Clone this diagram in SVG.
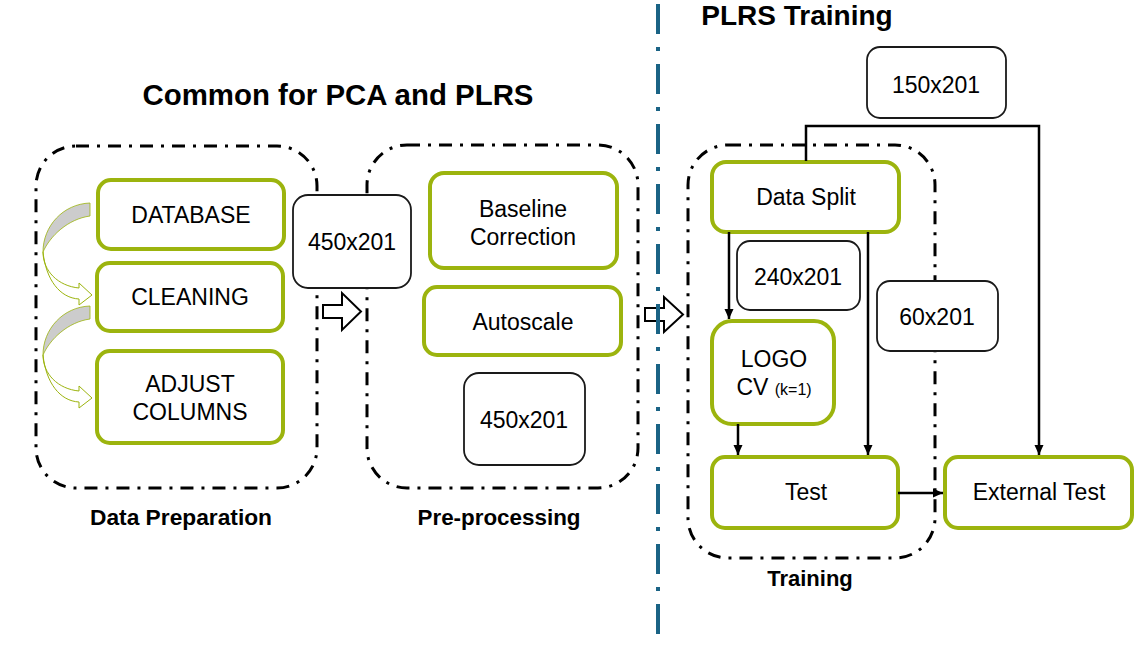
<svg xmlns="http://www.w3.org/2000/svg" width="1146" height="649" viewBox="0 0 1146 649">
<style>
.bg{fill:#ffffff}
.cont{fill:none;stroke:#000;stroke-width:3;stroke-dasharray:13 8 3 8}
.g{fill:#fff;stroke:#9CB40E;stroke-width:4}
.k{fill:#fff;stroke:#1a1a1a;stroke-width:1.8}
.t{font-family:"Liberation Sans",Arial,sans-serif;font-size:23px;fill:#000;text-anchor:middle}
.s{font-size:16px}
.h{font-family:"Liberation Sans",Arial,sans-serif;font-weight:bold;fill:#000;text-anchor:middle}
.c{fill:none;stroke:#000;stroke-width:2.5}
.blk{fill:#fff;stroke:#000;stroke-width:2}
.gr{fill:#cccccc;stroke:#9CB40E;stroke-width:0.8}
.wa{fill:#fff;stroke:#9CB40E;stroke-width:1}
</style>
<defs>
<marker id="ah" markerUnits="userSpaceOnUse" viewBox="0 0 10 10" refX="10" refY="5" markerWidth="10" markerHeight="10" orient="auto">
<path d="M0,0.5 L10,5 L0,9.5 Z" fill="#000"/>
</marker>
</defs>
<rect class="bg" x="0" y="0" width="1146" height="649"/>

<g id="titles">
<text class="h" x="338" y="105" font-size="29" textLength="391" lengthAdjust="spacingAndGlyphs">Common for PCA and PLRS</text>
<text class="h" x="797" y="25" font-size="28">PLRS Training</text>
</g>

<g id="data-preparation">
<rect class="cont" x="36" y="146" width="281" height="342" rx="40"/>
<text class="h" x="181" y="525" font-size="22" textLength="182" lengthAdjust="spacingAndGlyphs">Data Preparation</text>
</g>
<g id="pre-processing">
<rect class="cont" x="367" y="145" width="271" height="343" rx="40"/>
<text class="h" x="499" y="525" font-size="22" textLength="163" lengthAdjust="spacingAndGlyphs">Pre-processing</text>
</g>
<g id="training">
<rect class="cont" x="688" y="145" width="247" height="413" rx="40"/>
<text class="h" x="810" y="586" font-size="22">Training</text>
</g>

<g id="curved-arrows">
<path class="gr" d="M90,203 C63,204 43,226 43,252 C50,236 68,219 90,216 Z"/>
<path class="wa" d="M43,252 C43,271 58,286 79,288 L79,283 L92,295 L79,305 L79,299 C60,298 46,280 43,252 Z"/>
<g transform="translate(0,103)">
<path class="gr" d="M90,203 C63,204 43,226 43,252 C50,236 68,219 90,216 Z"/>
<path class="wa" d="M43,252 C43,271 58,286 79,288 L79,283 L92,295 L79,305 L79,299 C60,298 46,280 43,252 Z"/>
</g>
</g>

<g id="database"><rect class="g" x="98" y="180" width="186" height="69" rx="13"/><text class="t" x="191" y="223">DATABASE</text></g>
<g id="cleaning"><rect class="g" x="97" y="263" width="186" height="68" rx="13"/><text class="t" x="190" y="305">CLEANING</text></g>
<g id="adjust-columns"><rect class="g" x="97" y="351" width="186" height="92" rx="13"/><text class="t" x="190" y="392">ADJUST</text><text class="t" x="190" y="420">COLUMNS</text></g>

<g id="size-450-a"><rect class="k" x="293" y="195" width="118" height="93" rx="15"/><text class="t" x="352" y="250">450x201</text></g>

<g id="baseline-correction"><rect class="g" x="430" y="173" width="187" height="95" rx="14"/><text class="t" x="523" y="217">Baseline</text><text class="t" x="523" y="245">Correction</text></g>
<g id="autoscale"><rect class="g" x="424" y="287" width="197" height="68" rx="13"/><text class="t" x="523" y="330">Autoscale</text></g>
<g id="size-450-b"><rect class="k" x="464" y="373" width="121" height="92" rx="15"/><text class="t" x="524" y="428">450x201</text></g>

<g id="data-split"><rect class="g" x="712" y="162" width="187" height="70" rx="14"/><text class="t" x="806" y="205">Data Split</text></g>
<g id="size-240"><rect class="k" x="737" y="241" width="123" height="69" rx="13"/><text class="t" x="798" y="285">240x201</text></g>
<g id="size-60"><rect class="k" x="877" y="281" width="121" height="70" rx="13"/><text class="t" x="937" y="325">60x201</text></g>
<g id="size-150"><rect class="k" x="867" y="47" width="139" height="71" rx="13"/><text class="t" x="936" y="93">150x201</text></g>
<g id="logo-cv"><rect class="g" x="712" y="321" width="122" height="103" rx="20"/><text class="t" x="774" y="367">LOGO</text><text class="t" x="774" y="395">CV <tspan class="s">(k=1)</tspan></text></g>
<g id="test"><rect class="g" x="712" y="457" width="186" height="71" rx="13"/><text class="t" x="806" y="500">Test</text></g>
<g id="external-test"><rect class="g" x="945" y="457" width="187" height="71" rx="13"/><text class="t" x="1039" y="500">External Test</text></g>

<g id="connectors">
<path class="c" d="M806,161 V126 H1039 V455" marker-end="url(#ah)"/>
<path class="c" d="M729,232 V319" marker-end="url(#ah)"/>
<path class="c" d="M868,232 V455" marker-end="url(#ah)"/>
<path class="c" d="M738,424 V455" marker-end="url(#ah)"/>
<path class="c" d="M898,493 H943" marker-end="url(#ah)"/>
<path class="blk" d="M323,305 L342,305 L342,293 L361,311.5 L342,330 L342,318 L323,318 Z"/>
<path class="blk" d="M645,308 L664,308 L664,297 L683,314.5 L664,332 L664,321 L645,321 Z"/>
</g>

<g id="divider">
<line x1="658" y1="4" x2="658" y2="636" stroke="#1A6385" stroke-width="4" stroke-dasharray="30 13 4 13"/>
</g>
</svg>
